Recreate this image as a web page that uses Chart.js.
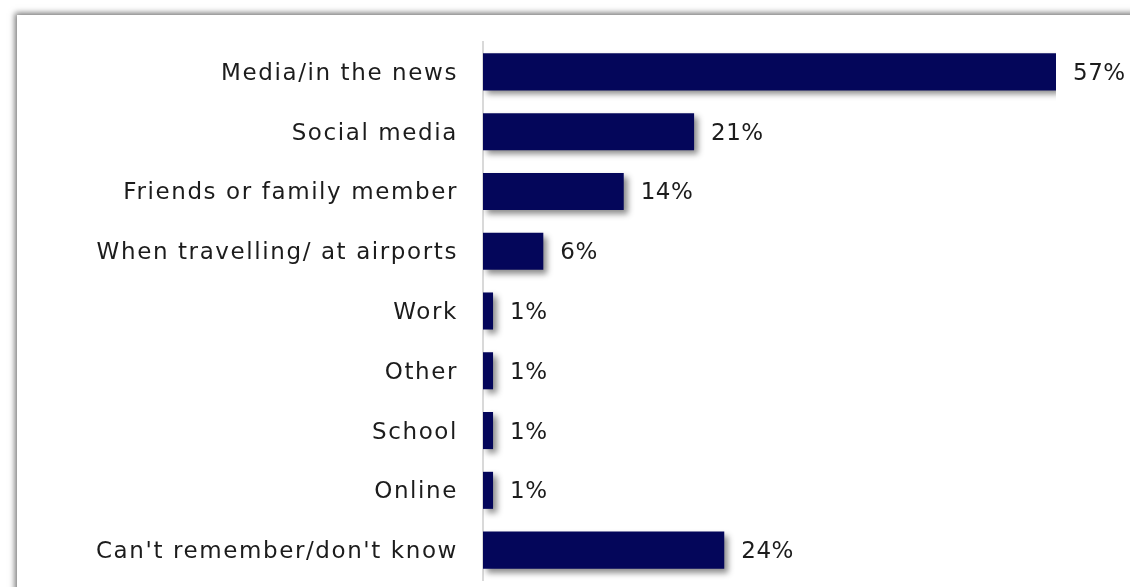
<!DOCTYPE html>
<html>
<head>
<meta charset="utf-8">
<script src="https://cdn.jsdelivr.net/npm/chart.js@4/dist/chart.umd.min.js"></script>
<style>
    html, body {
        margin: 0;
        padding: 0;
        background: #ffffff;
        overflow: hidden;
    }
    #frame {
        position: absolute;
        left: 17px;
        top: 15px;
        width: 1300px;
        height: 800px;
        background: #ffffff;
        box-shadow: -2px -2px 6px rgba(0, 0, 0, 0.55);
    }
    #wrap {
        position: absolute;
        left: 0;
        top: 0;
        width: 1130px;
        height: 587px;
    }
</style>
</head>
<body>
<div id="frame"></div>
<div id="wrap"><canvas id="sources-chart" width="1130" height="587"></canvas></div>
<script>
// Where people heard about it (% of respondents)
const categories = [
    'Media/in the news',
    'Social media',
    'Friends or family member',
    'When travelling/ at airports',
    'Work',
    'Other',
    'School',
    'Online',
    "Can't remember/don't know"
];
const percentages = [57, 21, 14, 6, 1, 1, 1, 1, 24];

const barColor = '#04065a';
const textColor = '#1c1c1c';
const fontFamily = '"DejaVu Sans", sans-serif';

// Wider tracking for all chart text
const textSpacing = {
    id: 'textSpacing',
    beforeDraw(chart) {
        chart.ctx.letterSpacing = '1.6px';
    }
};

// Soft drop shadow under the bars only
const barShadow = {
    id: 'barShadow',
    beforeDatasetsDraw(chart) {
        const ctx = chart.ctx;
        ctx.save();
        ctx.shadowColor = 'rgba(0, 0, 0, 0.45)';
        ctx.shadowBlur = 6;
        ctx.shadowOffsetX = 4;
        ctx.shadowOffsetY = 4;
    },
    afterDatasetsDraw(chart) {
        chart.ctx.restore();
    }
};

// Percentage labels to the right of each bar
const valueLabels = {
    id: 'valueLabels',
    afterDatasetsDraw(chart) {
        const ctx = chart.ctx;
        const meta = chart.getDatasetMeta(0);
        ctx.save();
        ctx.letterSpacing = '0.5px';
        ctx.font = '23px ' + fontFamily;
        ctx.fillStyle = textColor;
        ctx.textAlign = 'left';
        ctx.textBaseline = 'middle';
        meta.data.forEach(function(bar, i) {
            ctx.fillText(percentages[i] + '%', bar.x + 17, bar.y + 2);
        });
        ctx.restore();
    }
};

const ctx = document.getElementById('sources-chart').getContext('2d');
new Chart(ctx, {
    type: 'bar',
    data: {
        labels: categories,
        datasets: [{
            data: percentages,
            backgroundColor: barColor,
            borderWidth: 0,
            categoryPercentage: 0.62,
            barPercentage: 1.0
        }]
    },
    options: {
        indexAxis: 'y',
        responsive: false,
        animation: false,
        layout: {
            padding: { top: 42, bottom: 7, right: 74, left: 0 }
        },
        plugins: {
            legend: { display: false },
            tooltip: { enabled: false }
        },
        scales: {
            x: {
                display: false,
                min: 0,
                max: 57
            },
            y: {
                afterFit: function(scale) {
                    scale.width = 483;
                    // label padding should not shrink the plot vertically
                    scale.paddingTop = 0;
                    scale.paddingBottom = 0;
                },
                grid: {
                    display: false,
                    drawTicks: false
                },
                border: {
                    display: true,
                    color: '#d9d9d9',
                    width: 2
                },
                ticks: {
                    padding: 25,
                    labelOffset: 2,
                    color: textColor,
                    font: { family: fontFamily, size: 23 }
                }
            }
        }
    },
    plugins: [textSpacing, barShadow, valueLabels]
});
</script>
</body>
</html>
